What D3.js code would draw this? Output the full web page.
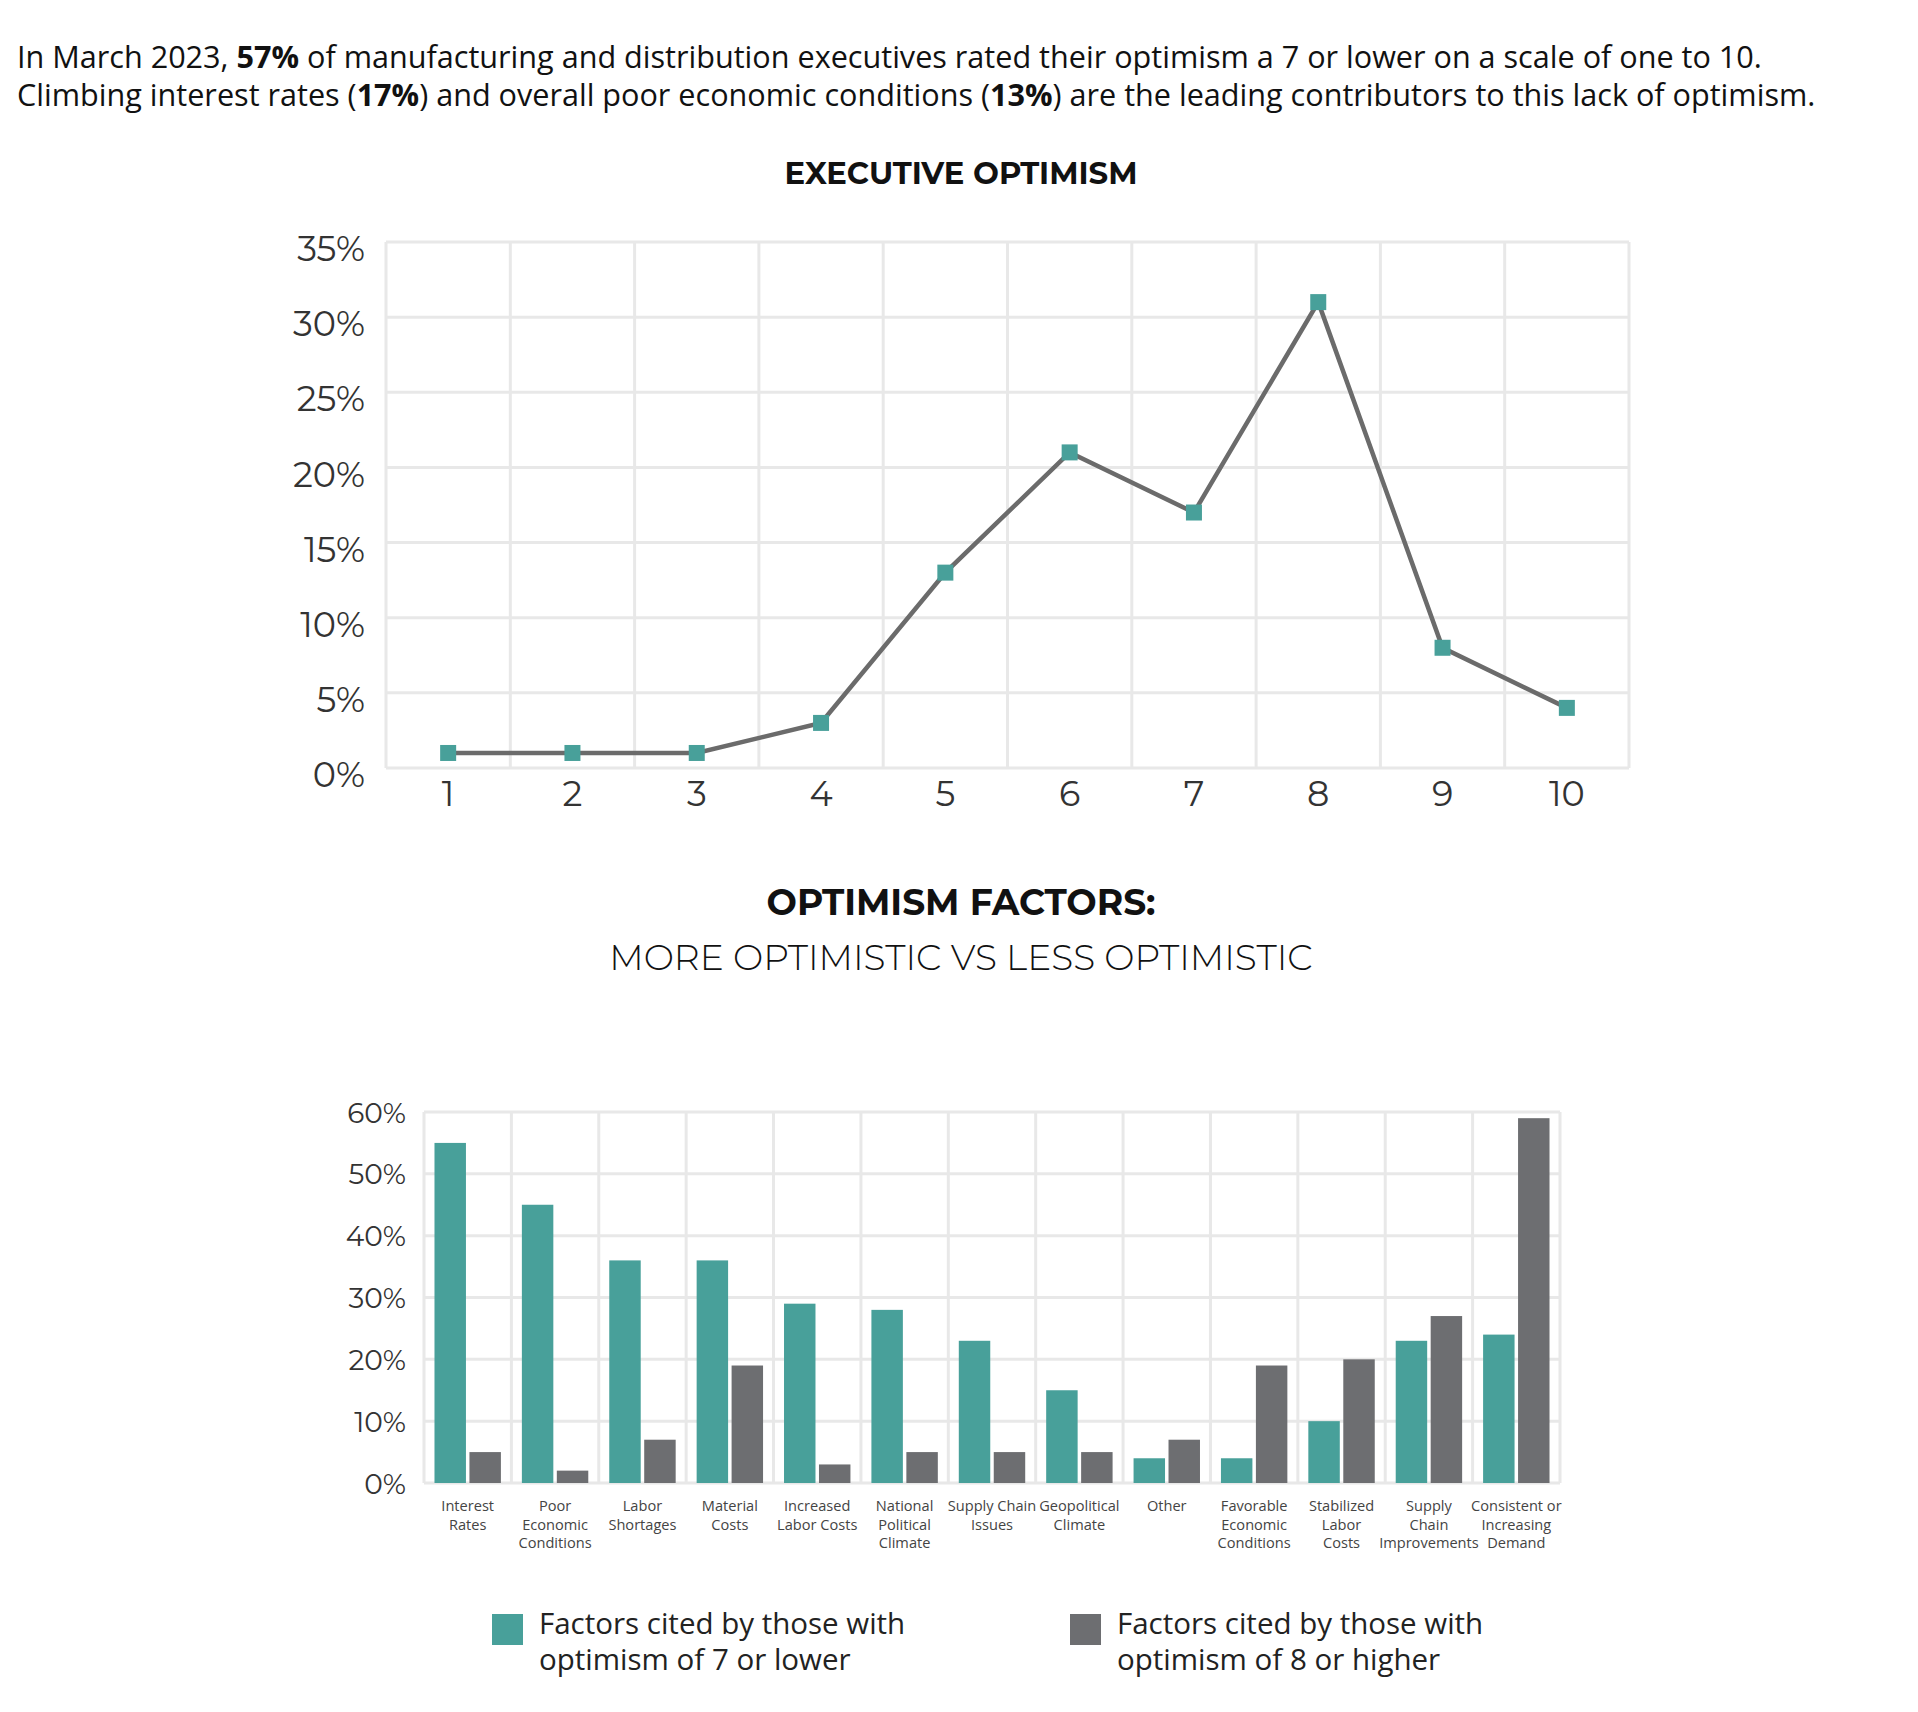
<!DOCTYPE html>
<html><head><meta charset="utf-8">
<script src="https://cdn.jsdelivr.net/npm/d3@7"></script>
<style>body{margin:0;background:#fff}svg{display:block}</style>
</head><body><svg id="c" width="1918" height="1712"></svg>
<script>
// ---- data ----
const ratings = ["1","2","3","4","5","6","7","8","9","10"];
const ratingShare = [1,1,1,3,13,21,17,31,8,4];
const optimismTicks = [0,5,10,15,20,25,30,35];

const factors = ["Interest Rates","Poor Economic Conditions","Labor Shortages","Material Costs","Increased Labor Costs","National Political Climate","Supply Chain Issues","Geopolitical Climate","Other","Favorable Economic Conditions","Stabilized Labor Costs","Supply Chain Improvements","Consistent or Increasing Demand"];
const factorLabelLines = [["Interest","Rates"],["Poor","Economic","Conditions"],["Labor","Shortages"],["Material","Costs"],["Increased","Labor Costs"],["National","Political","Climate"],["Supply Chain","Issues"],["Geopolitical","Climate"],["Other"],["Favorable","Economic","Conditions"],["Stabilized","Labor","Costs"],["Supply","Chain","Improvements"],["Consistent or","Increasing","Demand"]];
const lowerOptimism = [55,45,36,36,29,28,23,15,4,4,10,23,24];
const higherOptimism = [5,2,7,19,3,5,5,5,7,19,20,27,59];
const factorTicks = [0,10,20,30,40,50,60];
const seriesKeys = ["lower","higher"];
const seriesLabels = [["Factors cited by those with","optimism of 7 or lower"],["Factors cited by those with","optimism of 8 or higher"]];

const TEAL = "#48a09a", GRAY = "#6d6e71", GRID = "#e8e8e8";
const svg = d3.select("#c");
const HEAD = "Montserrat, Inter, sans-serif";
const CX = 961;

// ---- intro paragraph ----
const intro = [
  [["In March 2023, ",0],["57%",1],[" of manufacturing and distribution executives rated their optimism a 7 or lower on a scale of one to 10.",0]],
  [["Climbing interest rates (",0],["17%",1],[") and overall poor economic conditions (",0],["13%",1],[") are the leading contributors to this lack of optimism.",0]]
];
intro.forEach((line,i)=>{
  const t = svg.append("text").attr("x",17).attr("y",68+i*38)
    .attr("font-family","Open Sans").attr("font-size",30.6).attr("fill","#111");
  line.forEach(([s,b])=>t.append("tspan").text(s).attr("font-weight",b?700:400));
});

// ---- line chart ----
svg.append("text").attr("x",CX).attr("y",184).attr("text-anchor","middle")
  .attr("font-family",HEAD).attr("font-weight",700).attr("font-size",30.7).attr("fill","#111")
  .text("EXECUTIVE OPTIMISM");

const L = {left:386,right:1629,top:242,bottom:768};
const x1 = d3.scaleBand().domain(ratings).range([L.left,L.right]);
const y1 = d3.scaleLinear().domain([0,35]).range([L.bottom,L.top]);
const g1 = svg.append("g");
g1.selectAll("line.h").data(optimismTicks).join("line")
  .attr("x1",L.left).attr("x2",L.right).attr("y1",d=>y1(d)).attr("y2",d=>y1(d))
  .attr("stroke",GRID).attr("stroke-width",3);
const vb1 = ratings.map(r=>x1(r)).concat([L.right]);
g1.selectAll("line.v").data(vb1).join("line")
  .attr("x1",d=>d).attr("x2",d=>d).attr("y1",L.top).attr("y2",L.bottom)
  .attr("stroke",GRID).attr("stroke-width",3);

const ya1 = g1.append("g").attr("transform",`translate(${L.left-18},6)`)
  .call(d3.axisLeft(y1).tickValues(optimismTicks).tickFormat(d=>d+"%").tickSize(0));
ya1.select(".domain").remove();
ya1.selectAll("text").attr("font-family",HEAD).attr("font-size",35).attr("fill","#333").attr("dy","0.36em");
const xa1 = g1.append("g").attr("transform",`translate(0,${L.bottom+3})`)
  .call(d3.axisBottom(x1).tickSize(0));
xa1.select(".domain").remove();
xa1.selectAll("text").attr("font-family",HEAD).attr("font-size",35).attr("fill","#333").attr("dy","0.9em");

const pts = ratings.map((r,i)=>[x1(r)+x1.bandwidth()/2, y1(ratingShare[i])]);
g1.append("path").attr("d",d3.line()(pts)).attr("fill","none").attr("stroke","#6b6b6b").attr("stroke-width",4.5);
g1.selectAll("rect.m").data(pts).join("rect")
  .attr("x",d=>d[0]-8).attr("y",d=>d[1]-8).attr("width",16).attr("height",16).attr("fill",TEAL);

// ---- bar chart ----
svg.append("text").attr("x",CX).attr("y",915).attr("text-anchor","middle")
  .attr("font-family",HEAD).attr("font-weight",700).attr("font-size",36).attr("fill","#111")
  .text("OPTIMISM FACTORS:");
svg.append("text").attr("x",CX).attr("y",970).attr("text-anchor","middle")
  .attr("font-family",HEAD).attr("font-weight",300).attr("font-size",36).attr("fill","#111")
  .text("MORE OPTIMISTIC VS LESS OPTIMISTIC");

const B = {left:424,right:1560,top:1112,bottom:1483};
const x2 = d3.scaleBand().domain(factors).range([B.left,B.right]);
const xs = d3.scaleBand().domain(seriesKeys).range([0,x2.bandwidth()]).paddingInner(0.1).paddingOuter(0.3);
const y2 = d3.scaleLinear().domain([0,60]).range([B.bottom,B.top]);
const g2 = svg.append("g");
g2.selectAll("line.h").data(factorTicks).join("line")
  .attr("x1",B.left).attr("x2",B.right).attr("y1",d=>y2(d)).attr("y2",d=>y2(d))
  .attr("stroke",GRID).attr("stroke-width",3);
const vb2 = factors.map(f=>x2(f)).concat([B.right]);
g2.selectAll("line.v").data(vb2).join("line")
  .attr("x1",d=>d).attr("x2",d=>d).attr("y1",B.top).attr("y2",B.bottom)
  .attr("stroke",GRID).attr("stroke-width",3);

const ya2 = g2.append("g").attr("transform",`translate(${B.left-15},0)`)
  .call(d3.axisLeft(y2).tickValues(factorTicks).tickFormat(d=>d+"%").tickSize(0));
ya2.select(".domain").remove();
ya2.selectAll("text").attr("font-family",HEAD).attr("font-size",28).attr("fill","#333").attr("dy","0.36em");

const rows = factors.map((f,i)=>({f, lower:lowerOptimism[i], higher:higherOptimism[i]}));
const colors = {lower:TEAL, higher:GRAY};
const fg = g2.selectAll("g.f").data(rows).join("g").attr("transform",d=>`translate(${x2(d.f)},0)`);
fg.selectAll("rect").data(d=>seriesKeys.map(k=>({k,v:d[k]}))).join("rect")
  .attr("x",d=>xs(d.k)).attr("width",xs.bandwidth())
  .attr("y",d=>y2(d.v)).attr("height",d=>y2(0)-y2(d.v)).attr("fill",d=>colors[d.k]);

factors.forEach((f,i)=>{
  const cx = x2(f)+x2.bandwidth()/2;
  factorLabelLines[i].forEach((s,j)=>g2.append("text").attr("x",cx).attr("y",B.bottom+28+j*18.6)
    .attr("text-anchor","middle").attr("font-family","Open Sans").attr("font-size",14.6).attr("fill","#444").text(s));
});

// ---- legend ----
const legX = [492,1070];
seriesKeys.forEach((k,i)=>{
  svg.append("rect").attr("x",legX[i]).attr("y",1614).attr("width",31).attr("height",31).attr("fill",colors[k]);
  seriesLabels[i].forEach((s,j)=>svg.append("text").attr("x",legX[i]+47).attr("y",1634+j*35.5)
    .attr("font-family","Open Sans").attr("font-size",29.5).attr("fill","#222").text(s));
});
</script></body></html>
